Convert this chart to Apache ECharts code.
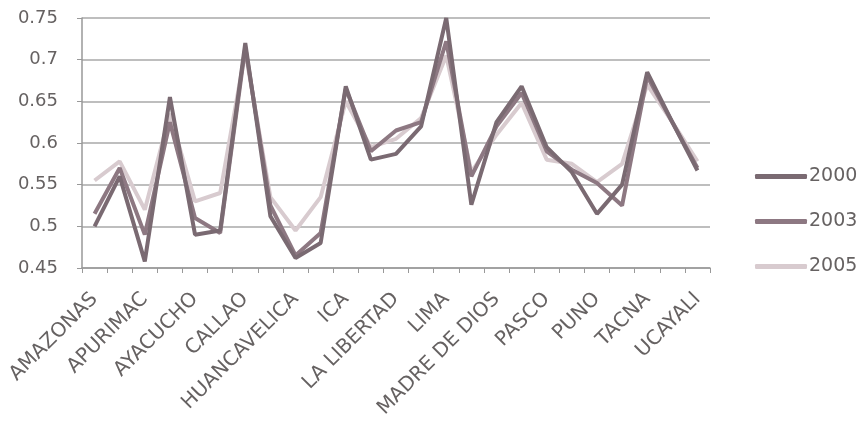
<!DOCTYPE html>
<html><head><meta charset="utf-8">
<script src="https://cdn.jsdelivr.net/npm/echarts@6/dist/echarts.min.js"></script>
<style>html,body{margin:0;padding:0;background:#fff}#c{width:862px;height:423px}</style>
</head><body><div id="c"></div>
<script>
const categories = ["AMAZONAS","ANCASH","APURIMAC","AREQUIPA","AYACUCHO","CAJAMARCA","CALLAO","CUSCO","HUANCAVELICA","HUANUCO","ICA","JUNIN","LA LIBERTAD","LAMBAYEQUE","LIMA","LORETO","MADRE DE DIOS","MOQUEGUA","PASCO","PIURA","PUNO","SAN MARTIN","TACNA","TUMBES","UCAYALI"];
const s2000 = [0.500,0.560,0.458,0.655,0.490,0.495,0.720,0.512,0.462,0.480,0.668,0.580,0.587,0.620,0.750,0.526,0.625,0.668,0.595,0.565,0.515,0.550,0.685,0.625,0.567];
const s2003 = [0.515,0.570,0.490,0.625,0.510,0.492,0.715,0.525,0.465,0.492,0.665,0.590,0.615,0.625,0.722,0.560,0.620,0.660,0.590,0.568,0.552,0.525,0.680,0.625,0.570];
const s2005 = [0.555,0.578,0.520,0.635,0.530,0.540,0.710,0.535,0.495,0.535,0.650,0.595,0.605,0.630,0.705,0.565,0.610,0.648,0.580,0.575,0.553,0.575,0.670,0.625,0.578];
const seriesNames = ["2000","2003","2005"];
const yTicks = {min:0.45, max:0.75, interval:0.05};
const colors = ["#7a6a72","#8d7882","#d8cbcf"];
const font = "'DejaVu Sans', sans-serif";
const textColor = '#666262';
const chart = echarts.init(document.getElementById('c'));
chart.setOption({
  animation:false,
  color: colors,
  grid:{left:82,right:152,top:18,bottom:155},
  legend:{
    orient:'vertical', left:750, top:162, itemGap:26,
    icon:'roundRect', itemWidth:52, itemHeight:5,
    itemStyle:{borderWidth:0},
    textStyle:{fontFamily:font,fontSize:19,color:textColor,padding:[0,0,0,-3]},
    data: seriesNames
  },
  xAxis:{
    type:'category', data:categories, boundaryGap:true,
    axisLine:{lineStyle:{color:'#999',width:1.5}},
    axisTick:{show:true,interval:0,length:5,lineStyle:{color:'#999'}},
    axisLabel:{interval:1,rotate:45,fontFamily:font,fontSize:20,color:textColor,margin:28}
  },
  yAxis:{
    type:'value', min:yTicks.min, max:yTicks.max, interval:yTicks.interval,
    axisLine:{show:true,lineStyle:{color:'#999',width:1.5}},
    axisTick:{show:true,length:5,lineStyle:{color:'#999'}},
    axisLabel:{fontFamily:font,fontSize:18,color:textColor,margin:24},
    splitLine:{lineStyle:{color:'#a8a8a8',width:1.5}}
  },
  series:[
    {name:seriesNames[0],type:'line',data:s2000,symbol:'none',lineStyle:{width:4,color:colors[0]},z:4},
    {name:seriesNames[1],type:'line',data:s2003,symbol:'none',lineStyle:{width:4,color:colors[1]},z:3},
    {name:seriesNames[2],type:'line',data:s2005,symbol:'none',lineStyle:{width:4,color:colors[2]},z:2}
  ]
});
</script></body></html>
